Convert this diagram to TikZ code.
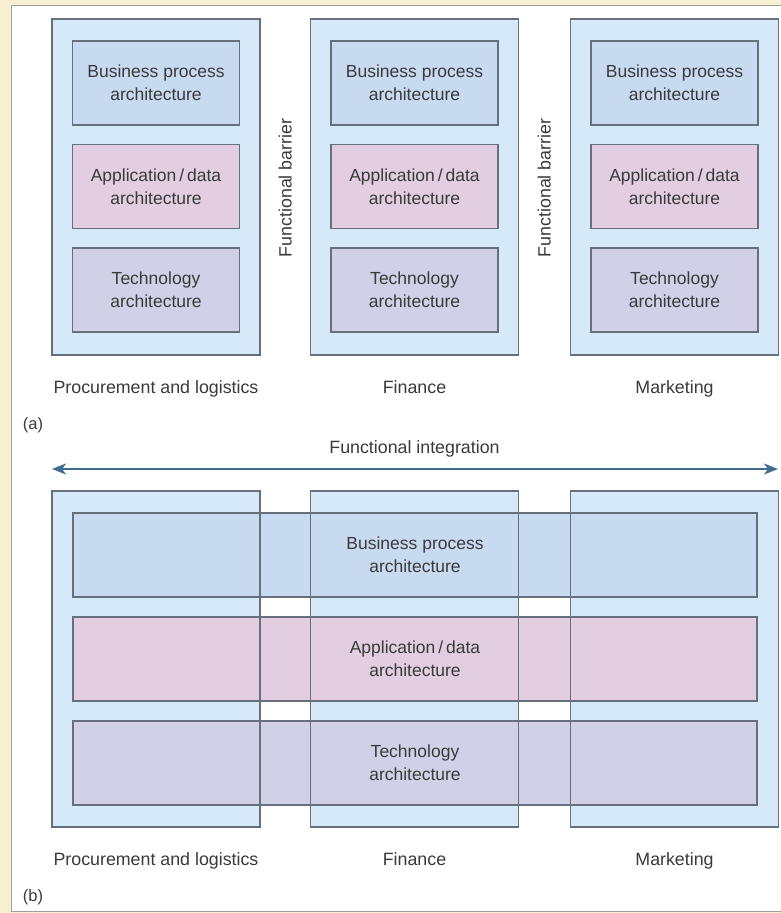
\documentclass[tikz,border=0pt]{standalone}
\usepackage{fontspec}
\setmainfont{Liberation Sans}
\usetikzlibrary{arrows.meta}

\definecolor{pagebg}{HTML}{F6EFD2}
\definecolor{panelline}{HTML}{A0A0A0}
\definecolor{colfill}{HTML}{D6E9F9}
\definecolor{bizfill}{HTML}{C8DAEF}
\definecolor{appfill}{HTML}{E2CDE1}
\definecolor{techfill}{HTML}{D2D0E6}
\definecolor{edgecol}{HTML}{66707C}
\definecolor{arrowcol}{HTML}{3F6E92}
\definecolor{txt}{HTML}{3A3A3A}

\tikzset{
  base/.style={rectangle, outer sep=0pt, inner sep=2pt, text=txt, align=center,
    font=\fontsize{17.5}{23}\selectfont},
  column/.style={base, minimum width=208pt, minimum height=336pt, fill=colfill, draw=edgecol, line width=1.2pt},
  columnfill/.style={base, minimum width=208pt, minimum height=336pt, fill=colfill},
  layerbox/.style={base, minimum width=167pt, minimum height=84pt, draw=edgecol, line width=1.2pt},
  widelayer/.style={base, minimum width=684pt, minimum height=84pt},
  caption/.style={text=txt, inner sep=0pt, text height=13pt, text depth=4pt,
    font=\fontsize{17.8}{20}\selectfont},
  tag/.style={text=txt, inner sep=0pt, text height=13pt, text depth=4pt,
    font=\fontsize{16.5}{20}\selectfont},
  edge/.style={draw=edgecol, line width=1.2pt},
}

\begin{document}
\begin{tikzpicture}[x=1pt,y=-1pt]
\useasboundingbox (0,0) rectangle (781,913);
% page and white panel
\fill[pagebg] (0,0) rectangle (781,913);
\filldraw[fill=white, draw=panelline, line width=1pt] (11,5) rectangle (795,911);

% ---------- (a) separate functional stacks ----------
\foreach \c/\x in {1/156, 2/414.5, 3/674.5} {
  \node[column] (a\c) at (\x,187) {};
  \node[layerbox, fill=bizfill]  (a\c biz)  at (\x,83)  {Business process\\architecture};
  \node[layerbox, fill=appfill]  (a\c app)  at (\x,186.5) {Application\,/\,data\\architecture};
  \node[layerbox, fill=techfill] (a\c tech) at (\x,290) {Technology\\architecture};
}
\node[caption, rotate=90] (bar1) at (287,188) {Functional barrier};
\node[caption, rotate=90] (bar2) at (546,188) {Functional barrier};

\node[caption] (pa1) at (156,389) {Procurement and logistics};
\node[caption] (pa2) at (414.5,389) {Finance};
\node[caption] (pa3) at (674.5,389) {Marketing};
\node[tag] (la) at (33,425) {(a)};

% ---------- (b) integrated layers ----------
\coordinate (il) at (52,469);
\coordinate (ir) at (778,469);
\draw[arrowcol, line width=2.4pt, {Stealth[length=14pt,width=11pt,inset=4pt]}-{Stealth[length=14pt,width=11pt,inset=4pt]}] (il) -- (ir);
\node[caption] (fi) at (414.5,449) {Functional integration};

\foreach \c/\x in {1/156, 2/414.5, 3/674.5} {
  \node[columnfill] (b\c) at (\x,659) {};
}
\node[widelayer, fill=bizfill]  (bbiz)  at (415,555) {Business process\\architecture};
\node[widelayer, fill=appfill]  (bapp)  at (415,659) {Application\,/\,data\\architecture};
\node[widelayer, fill=techfill] (btech) at (415,763) {Technology\\architecture};
\foreach \n in {b1,b2,b3,bbiz,bapp,btech} {
  \draw[edge] (\n.north west) rectangle (\n.south east);
}

\node[caption] (pb1) at (156,861) {Procurement and logistics};
\node[caption] (pb2) at (414.5,861) {Finance};
\node[caption] (pb3) at (674.5,861) {Marketing};
\node[tag] (lb) at (33,897) {(b)};
\end{tikzpicture}
\end{document}
